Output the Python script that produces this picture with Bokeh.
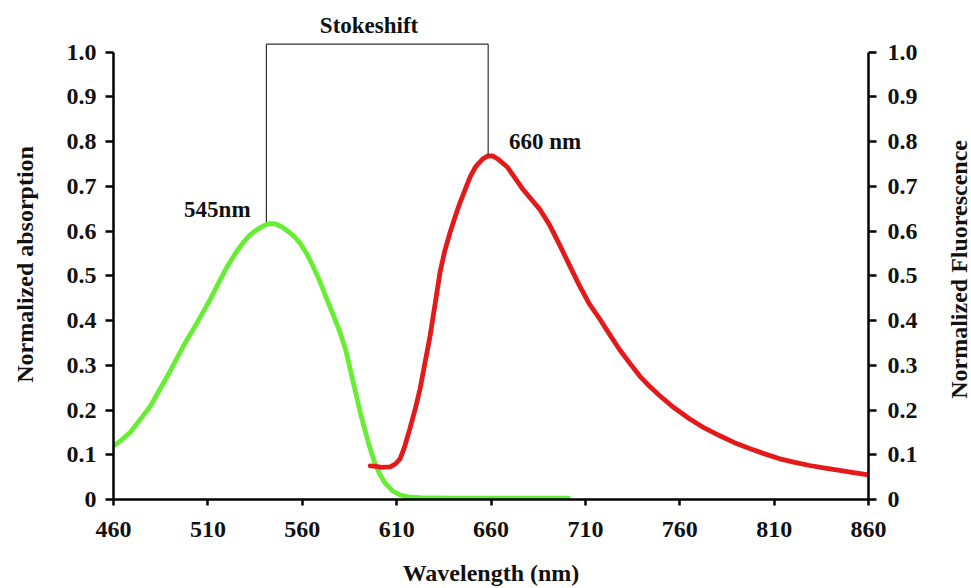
import math
from bokeh.plotting import figure
from bokeh.layouts import row
from bokeh.models import Range1d, LinearAxis, FixedTicker, NumeralTickFormatter, Label
from bokeh.embed import file_html
from bokeh.resources import INLINE

# Absorption (green)
abs_wl = [460, 464, 469, 474, 479.6, 484, 488.6, 493, 497, 504.4, 511.3, 516, 520.3, 524.5, 528.8, 532.5,
          536.2, 540, 543, 546, 549, 552, 556, 559, 562.5, 565.8, 569.5, 573, 576.5, 580, 583, 587, 591,
          595, 598, 601, 604, 608, 612, 616, 622, 640, 670, 701]
abs_val = [0.12, 0.132, 0.151, 0.178, 0.209, 0.242, 0.276, 0.311, 0.343, 0.396, 0.448, 0.487, 0.521, 0.550,
           0.575, 0.592, 0.604, 0.613, 0.617, 0.616, 0.610, 0.601, 0.587, 0.572, 0.549, 0.521, 0.486, 0.448,
           0.412, 0.374, 0.335, 0.262, 0.190, 0.127, 0.087, 0.057, 0.036, 0.019, 0.010, 0.006, 0.004, 0.003,
           0.003, 0.003]

# Fluorescence (red)
fl_wl = [596, 599, 602, 606.6, 609.5, 611.8, 614, 617, 620, 622.4, 625, 627.7, 630.5, 633, 635.5, 638.3,
         641, 643.6, 646.5, 649, 652, 655.8, 658.5, 661, 664, 668.5, 672.5, 677, 682, 686, 691, 696.5, 702,
         707, 712, 717.7, 723, 728, 733.5, 738.8, 744, 749.4, 757, 765.3, 773, 781, 789, 797, 805, 813, 821,
         828.8, 837, 844.7, 852, 860]
fl_val = [0.075, 0.074, 0.072, 0.073, 0.080, 0.091, 0.115, 0.158, 0.205, 0.247, 0.305, 0.365, 0.440, 0.508,
          0.556, 0.597, 0.632, 0.664, 0.695, 0.722, 0.745, 0.762, 0.768, 0.768, 0.760, 0.744, 0.720, 0.693,
          0.668, 0.648, 0.614, 0.568, 0.520, 0.477, 0.438, 0.403, 0.368, 0.336, 0.305, 0.276, 0.253, 0.232,
          0.205, 0.180, 0.160, 0.143, 0.127, 0.114, 0.102, 0.091, 0.083, 0.076, 0.070, 0.065, 0.060, 0.055]

x_ticks = [460, 510, 560, 610, 660, 710, 760, 810, 860]
y_ticks = [0, 0.1, 0.2, 0.3, 0.4, 0.5, 0.6, 0.7, 0.8, 0.9, 1.0]

FONT = "Liberation Serif"
FS = "24px"
LF = "23px"
H = 588

p = figure(width=896, height=H, output_backend="svg", toolbar_location=None,
           x_range=Range1d(460, 860), y_range=Range1d(0, 1.1),
           min_border_left=73, min_border_right=68, min_border_top=7, min_border_bottom=87)
p.outline_line_color = None
p.xgrid.visible = False
p.ygrid.visible = False
p.extra_y_ranges = {"fl": Range1d(0, 1.1)}

def style_axis(ax):
    ax.axis_line_width = 2.5
    ax.axis_line_color = "black"
    ax.major_tick_line_width = 2.5
    ax.major_tick_line_color = "black"
    ax.major_tick_in = 0
    ax.major_tick_out = 8
    ax.minor_tick_line_color = None
    ax.major_label_text_font = FONT
    ax.major_label_text_font_style = "bold"
    ax.major_label_text_font_size = FS
    ax.major_label_text_color = "#111111"
    ax.axis_label_text_font = FONT
    ax.axis_label_text_font_style = "bold"
    ax.axis_label_text_font_size = FS
    ax.axis_label_text_color = "#111111"

xa = p.xaxis[0]
style_axis(xa)
xa.ticker = FixedTicker(ticks=x_ticks)
xa.axis_label = "Wavelength (nm)"
xa.major_tick_out = 6
xa.major_label_standoff = 16
xa.axis_label_standoff = 20

ya = p.yaxis[0]
style_axis(ya)
ya.ticker = FixedTicker(ticks=y_ticks)
ya.formatter = NumeralTickFormatter(format="0.0")
ya.major_label_overrides = {0: "0"}
ya.bounds = (0, 1)
ya.major_label_standoff = 9

yr = LinearAxis(y_range_name="fl")
style_axis(yr)
yr.ticker = FixedTicker(ticks=y_ticks)
yr.formatter = NumeralTickFormatter(format="0.0")
yr.major_label_overrides = {0: "0"}
yr.bounds = (0, 1)
yr.major_label_standoff = 11
p.add_layout(yr, "right")

p.line(abs_wl, abs_val, line_color="#66ee33", line_width=4.8, line_join="round", line_cap="round")
p.line(fl_wl, fl_val, line_color="#e41a1a", line_width=4.8, line_join="round", line_cap="round",
       y_range_name="fl")

# Stokes shift bracket
p.line([541, 541, 658.5, 658.5], [0.62, 1.018, 1.018, 0.77], line_color="#333333", line_width=1.2)

p.add_layout(Label(x=595.4, y=1.06, text="Stokeshift", text_font=FONT, text_font_style="bold",
                   text_font_size=LF, text_align="center", text_baseline="middle", text_color="#111111"))
p.add_layout(Label(x=515, y=0.648, text="545nm", text_font=FONT, text_font_style="bold",
                   text_font_size=LF, text_align="center", text_baseline="middle", text_color="#111111"))
p.add_layout(Label(x=688.6, y=0.80, text="660 nm", text_font=FONT, text_font_style="bold",
                   text_font_size=LF, text_align="center", text_baseline="middle", text_color="#111111"))


def side_panel(width, title, cx, cy):
    s = figure(width=width, height=H, output_backend="svg", toolbar_location=None,
               x_range=Range1d(0, width), y_range=Range1d(0, H),
               min_border_left=0, min_border_right=0, min_border_top=0, min_border_bottom=0)
    s.axis.visible = False
    s.xgrid.visible = False
    s.ygrid.visible = False
    s.outline_line_color = None
    s.add_layout(Label(x=cx, y=H - cy, text=title, angle=math.pi / 2,
                       text_font=FONT, text_font_style="bold", text_font_size=FS,
                       text_align="center", text_baseline="middle", text_color="#111111"))
    return s


left = side_panel(40, "Normalized absorption", 24, 307)
right = side_panel(35, "Normalized Fluorescence", 22, 313)

layout = row(left, p, right, spacing=0)
open("out.html", "w").write(file_html(layout, INLINE))
